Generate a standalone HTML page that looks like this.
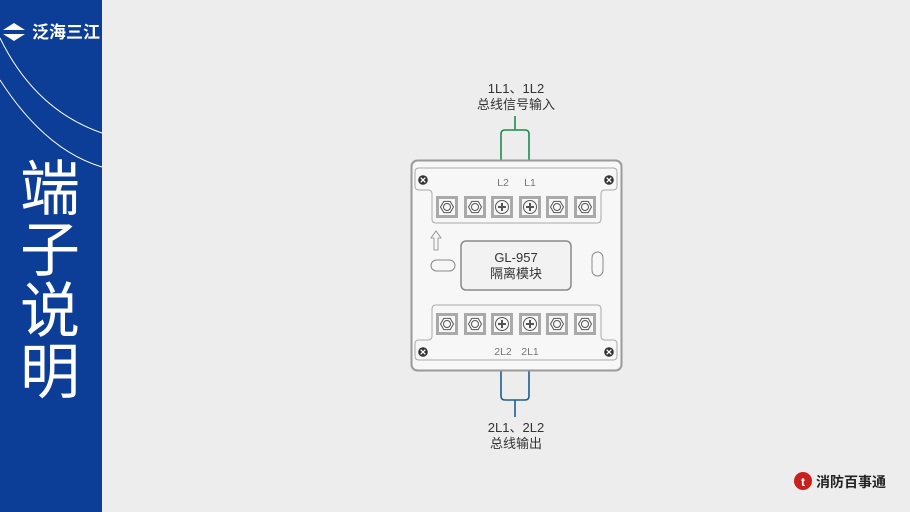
<!DOCTYPE html>
<html><head><meta charset="utf-8"><style>
html,body{margin:0;padding:0;width:910px;height:512px;overflow:hidden;background:#ededed;font-family:"Liberation Sans","Noto Sans CJK SC",sans-serif}
</style></head><body>
<svg width="910" height="512" viewBox="0 0 910 512" xmlns="http://www.w3.org/2000/svg" style="position:absolute;left:0;top:0">
<defs>
<g id="hex"><rect x="-9.5" y="-9.5" width="19" height="19" fill="#f8f8f8" stroke="#a9a9a9" stroke-width="3"/>
<polygon points="-6.5,0 -3.2,-5.6 3.2,-5.6 6.5,0 3.2,5.6 -3.2,5.6" fill="none" stroke="#555" stroke-width="1"/><circle r="3.5" fill="none" stroke="#555" stroke-width="1"/></g>
<g id="plus"><rect x="-9.5" y="-9.5" width="19" height="19" fill="#f8f8f8" stroke="#a9a9a9" stroke-width="3"/>
<circle r="6.5" fill="none" stroke="#555" stroke-width="1"/><path d="M-4 0H4M0 -4V4" stroke="#555" stroke-width="2"/></g>
<g id="scr"><circle r="4.8" fill="#333"/><path d="M-2.3 -2.3L2.3 2.3M2.3 -2.3L-2.3 2.3" stroke="#fff" stroke-width="1.3"/></g>
</defs>
<rect x="0" y="0" width="102" height="512" fill="#0c3e98"/>
<path d="M0 38 Q35 110 102 133" fill="none" stroke="#fff" stroke-width="1"/>
<path d="M0 80 Q45 150 102 167" fill="none" stroke="#fff" stroke-width="1"/>
<polygon points="3,30 14,23 25,30" fill="#fff"/><polygon points="3,34 14,41 25,34" fill="#fff"/>
<text x="32" y="38" fill="#fff" font-size="17" font-weight="bold" font-family="Liberation Sans,Noto Sans CJK SC,sans-serif">泛海三江</text>
<g fill="#fff" font-size="60" font-family="Liberation Sans,Noto Sans CJK SC,sans-serif" text-anchor="middle">
<text x="50" y="210">端</text><text x="50" y="271">子</text><text x="50" y="332">说</text><text x="50" y="393">明</text></g>

<g font-size="13" fill="#333" text-anchor="middle" font-family="Liberation Sans,Noto Sans CJK SC,sans-serif">
<text x="516" y="93">1L1、1L2</text><text x="516" y="109">总线信号输入</text>
<text x="516" y="432">2L1、2L2</text><text x="516" y="448">总线输出</text></g>
<path d="M515 116V130 M501 160V134 Q501 130 505 130H525 Q529 130 529 134V160" fill="none" stroke="#1f8a4c" stroke-width="1.6"/>
<path d="M515 417V400 M501 371V396 Q501 400 505 400H525 Q529 400 529 396V371" fill="none" stroke="#1d5e8c" stroke-width="1.6"/>

<rect x="411.5" y="160.5" width="210" height="210" rx="6" fill="#f7f7f7" stroke="#9a9a9a" stroke-width="2"/>
<path d="M419 168H613Q617 168 617 172V186Q617 190 613 190H605Q601 190 601 194V219Q601 223 597 223H436Q432 223 432 219V194Q432 190 428 190H419Q415 190 415 186V172Q415 168 419 168Z" fill="none" stroke="#aaa" stroke-width="1"/>
<path d="M436 305H597Q601 305 601 309V336Q601 340 605 340H613Q617 340 617 344V356Q617 360 613 360H419Q415 360 415 356V344Q415 340 419 340H428Q432 340 432 336V309Q432 305 436 305Z" fill="none" stroke="#aaa" stroke-width="1"/>
<use href="#scr" x="423" y="180"/><use href="#scr" x="609" y="180"/><use href="#scr" x="423" y="352"/><use href="#scr" x="609" y="352"/>
<g font-size="10.5" fill="#777" text-anchor="middle" font-family="Liberation Sans,sans-serif">
<text x="503" y="186">L2</text><text x="530" y="186">L1</text><text x="503" y="355">2L2</text><text x="530" y="355">2L1</text></g>
<use href="#hex" x="447" y="207"/><use href="#hex" x="475" y="207"/><use href="#plus" x="502" y="207"/><use href="#plus" x="530" y="207"/><use href="#hex" x="557" y="207"/><use href="#hex" x="585" y="207"/>
<use href="#hex" x="447" y="324"/><use href="#hex" x="475" y="324"/><use href="#plus" x="502" y="324"/><use href="#plus" x="530" y="324"/><use href="#hex" x="557" y="324"/><use href="#hex" x="585" y="324"/>
<rect x="461" y="241" width="110" height="49" rx="5" fill="#f2f2f2" stroke="#8a8a8a" stroke-width="1.5"/>
<text x="516" y="262" font-size="13" fill="#333" text-anchor="middle" font-family="Liberation Sans,sans-serif">GL-957</text>
<text x="516" y="278" font-size="13" fill="#333" text-anchor="middle" font-family="Liberation Sans,Noto Sans CJK SC,sans-serif">隔离模块</text>
<path d="M434 250V238H431L436 231L441 238H438V250Z" fill="none" stroke="#888" stroke-width="0.8"/>
<rect x="431" y="260" width="24" height="11" rx="5.5" fill="none" stroke="#888" stroke-width="1"/>
<rect x="592" y="252" width="11" height="24" rx="5.5" fill="none" stroke="#888" stroke-width="1"/>

<circle cx="803" cy="481" r="9" fill="#c8201d"/><text x="803" y="486" font-size="12" fill="#fff" text-anchor="middle" font-weight="bold">t</text>
<text x="816" y="487" font-size="14" font-weight="bold" fill="#222" font-family="Liberation Sans,Noto Sans CJK SC,sans-serif">消防百事通</text>
</svg>
</body></html>
